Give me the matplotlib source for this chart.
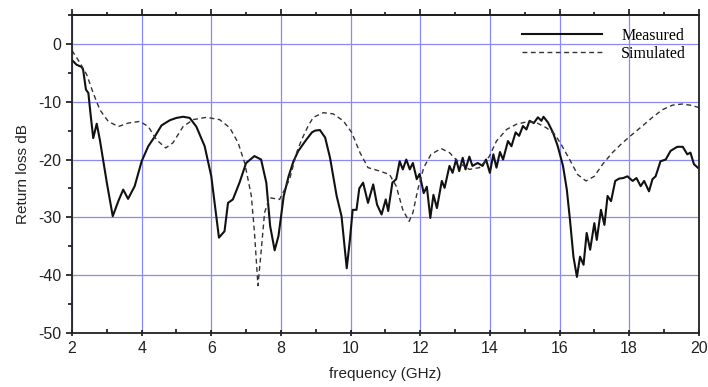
import numpy as np
import matplotlib.pyplot as plt
from matplotlib.ticker import MultipleLocator

# measured return loss (GHz, dB)
meas_f = [2.0, 2.13, 2.28, 2.32, 2.4, 2.47, 2.53, 2.61, 2.71, 2.8, 3.0, 3.17, 3.33, 3.47, 3.61,
          3.8, 4.0, 4.19, 4.38, 4.57, 4.81, 5.0, 5.19, 5.38, 5.57, 5.81, 6.0, 6.22, 6.38, 6.48,
          6.62, 6.81, 7.0, 7.24, 7.43, 7.58, 7.69, 7.82, 7.93, 8.0, 8.08, 8.22, 8.36, 8.5, 8.7,
          8.89, 8.98, 9.12, 9.27, 9.41, 9.6, 9.74, 9.89, 9.98, 10.06, 10.17, 10.25, 10.36, 10.5,
          10.65, 10.76, 10.89, 11.01, 11.08, 11.2, 11.31, 11.41, 11.5, 11.6, 11.7, 11.79, 11.9,
          11.98, 12.1, 12.19, 12.29, 12.38, 12.48, 12.62, 12.7, 12.84, 12.93, 13.03, 13.12, 13.22,
          13.3, 13.41, 13.5, 13.65, 13.79, 13.89, 14.0, 14.1, 14.19, 14.29, 14.38, 14.52, 14.62,
          14.74, 14.84, 14.95, 15.05, 15.14, 15.26, 15.38, 15.48, 15.54, 15.67, 15.81, 15.95,
          16.1, 16.21, 16.3, 16.4, 16.5, 16.59, 16.69, 16.78, 16.88, 17.0, 17.07, 17.19, 17.29,
          17.38, 17.48, 17.6, 17.71, 17.83, 17.95, 18.1, 18.21, 18.33, 18.43, 18.57, 18.67,
          18.76, 18.9, 19.05, 19.19, 19.38, 19.54, 19.67, 19.76, 19.86, 19.97]
meas_db = [-2.8, -3.6, -4.0, -4.5, -7.9, -8.5, -12, -16.3, -13.8, -16.6, -24, -29.8, -27.2, -25.2,
           -26.8, -24.6, -20.3, -17.7, -16, -14.1, -13.2, -12.8, -12.6, -12.8, -14.3, -17.7, -22.9,
           -33.5, -32.4, -27.5, -26.9, -24, -20.6, -19.4, -20, -24, -31.5, -35.7, -33.2, -30, -26.3,
           -22.9, -20.3, -18.5, -16.8, -15.3, -15.0, -14.9, -16.2, -19.7, -26.3, -29.8, -38.8,
           -33.9, -28.7, -28.7, -25, -24, -27.5, -24.3, -27.8, -29.5, -26.9, -28.9, -24, -23.4,
           -20.3, -21.7, -20, -21.7, -20.6, -23.4, -22.5, -25.8, -24.7, -30.1, -26.1, -28.4, -23.7,
           -24.9, -21.1, -22.3, -20, -22, -19.7, -21.7, -19.5, -21.1, -20.6, -21.1, -20, -22.3,
           -19.1, -21.4, -18.7, -20, -16.8, -17.7, -15.3, -15.9, -14.2, -14.8, -13.3, -13.7, -12.7,
           -13.3, -12.6, -13.6, -15.3, -17.7, -21.1, -25.2, -30.4, -36.8, -40.3, -36.8, -38.2,
           -32.7, -35.6, -31, -33.9, -28.7, -31.3, -26.3, -27.2, -23.7, -23.3, -23.2, -22.9, -23.7,
           -23.2, -24.6, -23.7, -25.5, -23.4, -22.9, -20.3, -20, -18.5, -17.8, -17.8, -19.1, -18.8,
           -20.8, -21.4]

# simulated return loss (GHz, dB)
sim_f = [2.0, 2.23, 2.42, 2.61, 2.8, 3.04, 3.33, 3.61, 3.95, 4.19, 4.43, 4.69, 4.9, 5.19, 5.48,
         5.86, 6.24, 6.53, 6.77, 6.96, 7.15, 7.24, 7.34, 7.43, 7.53, 7.67, 7.96, 8.12, 8.25, 8.45,
         8.6, 8.78, 8.93, 9.22, 9.5, 9.79, 10.03, 10.27, 10.5, 10.84, 11.12, 11.31, 11.5, 11.68,
         11.79, 11.93, 12.1, 12.31, 12.6, 12.84, 13.12, 13.41, 13.7, 13.98, 14.19, 14.48, 14.76,
         15.05, 15.33, 15.62, 15.86, 16.05, 16.29, 16.52, 16.76, 17.0, 17.24, 17.52, 17.81, 18.1,
         18.38, 18.67, 18.95, 19.24, 19.52, 19.76, 20.0]
sim_db = [-1.15, -3.3, -5.3, -8.5, -11.4, -13.4, -14.3, -13.7, -13.4, -14.3, -16.6, -18, -17.1,
          -14.3, -13.1, -12.7, -13.1, -14.5, -17.1, -20.6, -26.3, -32.6, -41.8, -36, -29.2, -26.6,
          -26.9, -25, -23.4, -18.8, -16.5, -14.2, -12.7, -11.9, -12.1, -13.3, -15.3, -18.8, -21.4,
          -22, -22.6, -24.6, -28.7, -30.7, -29.2, -25.2, -21.4, -19.1, -18.1, -18.8, -20.6, -21.7,
          -21.4, -19.5, -16.8, -14.8, -13.9, -13.5, -13.6, -14.5, -15.6, -17.4, -20, -22.6, -23.7,
          -22.9, -20.8, -18.8, -17.1, -15.6, -14.2, -12.7, -11.4, -10.6, -10.4, -10.6, -11]

plt.rcParams['font.family'] = ['Liberation Sans', 'DejaVu Sans']
plt.rcParams['axes.unicode_minus'] = False

fig = plt.figure(figsize=(7.08, 3.87), dpi=100)
ax = fig.add_axes([0.1017, 0.1395, 0.8853, 0.8218])

ax.plot(meas_f, meas_db, color='#111111', lw=1.5, label='Measured')
ax.plot(sim_f, sim_db, color='#333333', lw=1.0, dashes=(3.5, 2.5), label='Simulated')

ax.set_xlim(2, 20)
ax.set_ylim(-50, 5)
ax.xaxis.set_major_locator(MultipleLocator(2))
ax.xaxis.set_minor_locator(MultipleLocator(1))
ax.yaxis.set_major_locator(MultipleLocator(10))
ax.yaxis.set_minor_locator(MultipleLocator(5))
ax.grid(True, which='major', color='#8a8af2', lw=0.9)
ax.set_axisbelow(True)

for s in ax.spines.values():
    s.set_linewidth(1.3)
    s.set_color('#222222')

ax.tick_params(axis='both', which='major', length=5, width=1.1, labelsize=11.5, direction='inout',
               labelcolor='#222222')
ax.tick_params(axis='y', which='minor', length=3, width=1.1, direction='out')
ax.tick_params(axis='x', which='minor', length=3, width=1.1, direction='in')
ax.tick_params(axis='y', which='major', direction='out', length=4)

top = ax.secondary_xaxis('top')
top.xaxis.set_major_locator(MultipleLocator(2))
top.xaxis.set_minor_locator(MultipleLocator(1))
top.tick_params(which='major', direction='out', length=4, width=1.1, labeltop=False)
top.tick_params(which='minor', direction='out', length=2.5, width=1.1)
top.spines['top'].set_linewidth(1.3)

ax.set_xlabel('frequency (GHz)', fontsize=11, labelpad=8, color='#222222')
ax.set_ylabel('Return loss dB', fontsize=11, labelpad=6, color='#222222')

ax.legend(loc='upper right', frameon=False, handlelength=5.0, handletextpad=1.2,
          labelspacing=0.11, borderaxespad=0.4, borderpad=0.4,
          prop={'family': 'Liberation Serif', 'size': 11.5})

plt.savefig('out.png', dpi=100)
